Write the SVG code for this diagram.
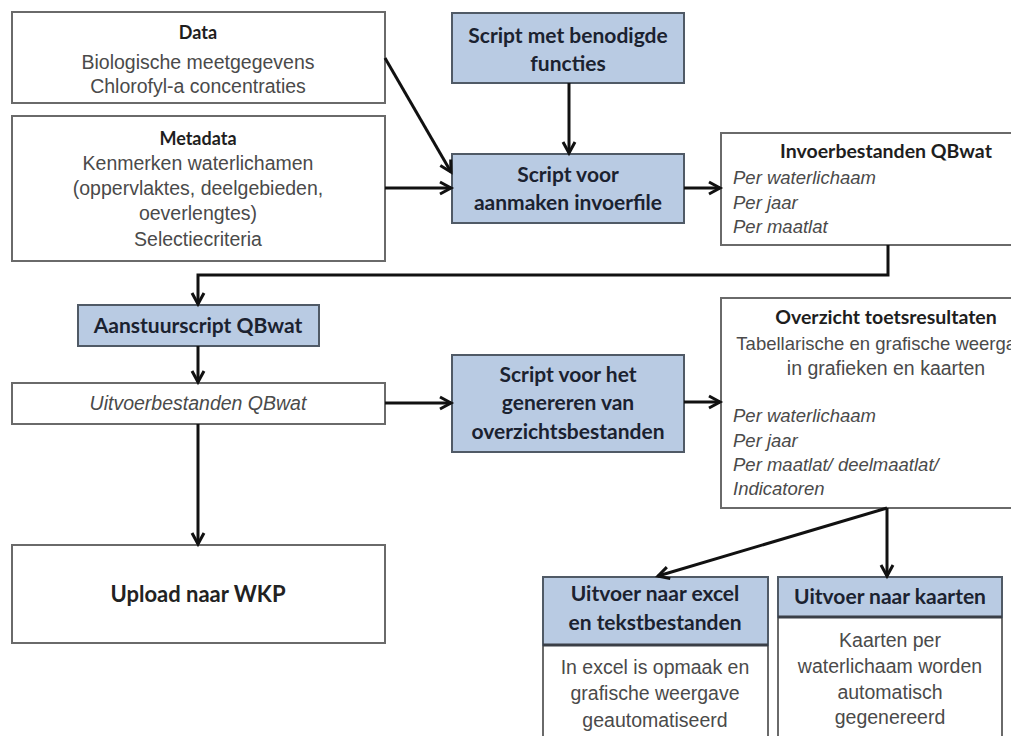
<svg xmlns="http://www.w3.org/2000/svg" width="1011" height="736" viewBox="0 0 1011 736">
<style>
.wbox{fill:#ffffff;stroke:#6a6a6a;stroke-width:2}
.bbox{fill:#b9cbe3;stroke:#505a66;stroke-width:2}
.hline{stroke:#3a3f47;stroke-width:3}
.t{font-family:"Liberation Sans",Arial,sans-serif;font-size:19.5px;fill:#4a4a4a;text-anchor:middle}
.ti{font-family:"Liberation Sans",Arial,sans-serif;font-size:18.5px;font-style:italic;fill:#4a4a4a}
.h{font-family:Lato,"Liberation Sans",sans-serif;font-weight:700;font-size:19.5px;fill:#1e1e1e;text-anchor:middle}
.b{font-family:Lato,"Liberation Sans",sans-serif;font-weight:700;font-size:21px;fill:#1b2230;text-anchor:middle}
.c{fill:none;stroke:#111;stroke-width:3}
</style>
<defs>
<marker id="ah" markerUnits="userSpaceOnUse" markerWidth="18" markerHeight="18" refX="13" refY="8" orient="auto">
<path d="M2,2 L13,8 L2,14" fill="none" stroke="#111" stroke-width="3"/>
</marker>
</defs>
<rect width="1011" height="736" fill="#ffffff"/>

<g id="data">
<rect class="wbox" x="12" y="12" width="373" height="91"/>
<text class="h" x="198" y="39" style="font-size:18px">Data</text>
<text class="t" x="198" y="69">Biologische meetgegevens</text>
<text class="t" x="198" y="93">Chlorofyl-a concentraties</text>
</g>

<g id="metadata">
<rect class="wbox" x="12" y="116" width="373" height="145"/>
<text class="h" x="198" y="145" style="font-size:18px">Metadata</text>
<text class="t" x="198" y="170">Kenmerken waterlichamen</text>
<text class="t" x="198" y="195">(oppervlaktes, deelgebieden,</text>
<text class="t" x="198" y="220">oeverlengtes)</text>
<text class="t" x="198" y="246">Selectiecriteria</text>
</g>

<g id="script-functies">
<rect class="bbox" x="452" y="13" width="232" height="70"/>
<text class="b" x="568" y="43">Script met benodigde</text>
<text class="b" x="568" y="71">functies</text>
</g>

<g id="script-invoer">
<rect class="bbox" x="452" y="154" width="232" height="69"/>
<text class="b" x="568" y="182">Script voor</text>
<text class="b" x="568" y="210">aanmaken invoerfile</text>
</g>

<g id="invoerbestanden">
<rect class="wbox" x="721" y="133" width="330" height="112"/>
<text class="h" x="886" y="158">Invoerbestanden QBwat</text>
<text class="ti" x="733" y="184">Per waterlichaam</text>
<text class="ti" x="733" y="209">Per jaar</text>
<text class="ti" x="733" y="233">Per maatlat</text>
</g>

<g id="aanstuurscript">
<rect class="bbox" x="78" y="305" width="241" height="41"/>
<text class="b" x="198" y="333">Aanstuurscript QBwat</text>
</g>

<g id="uitvoerbestanden">
<rect class="wbox" x="12" y="383" width="373" height="41"/>
<text class="ti" x="198" y="410" style="text-anchor:middle;font-size:19.5px">Uitvoerbestanden QBwat</text>
</g>

<g id="script-overzicht">
<rect class="bbox" x="452" y="355" width="232" height="97"/>
<text class="b" x="568" y="382">Script voor het</text>
<text class="b" x="568" y="410">genereren van</text>
<text class="b" x="568" y="439">overzichtsbestanden</text>
</g>

<g id="overzicht">
<rect class="wbox" x="721" y="298" width="330" height="210"/>
<text class="h" x="886" y="324">Overzicht toetsresultaten</text>
<text class="t" x="886" y="350" style="font-size:18.5px">Tabellarische en grafische weergave</text>
<text class="t" x="886" y="375">in grafieken en kaarten</text>
<text class="ti" x="733" y="422">Per waterlichaam</text>
<text class="ti" x="733" y="447">Per jaar</text>
<text class="ti" x="733" y="471">Per maatlat/ deelmaatlat/</text>
<text class="ti" x="733" y="495">Indicatoren</text>
</g>

<g id="upload">
<rect class="wbox" x="12" y="545" width="373" height="98"/>
<text class="b" x="198" y="602" style="fill:#222;font-size:22px">Upload naar WKP</text>
</g>

<g id="uitvoer-excel">
<rect class="wbox" x="543" y="577" width="225" height="170"/>
<rect class="bbox" x="543" y="577" width="225" height="68"/>
<line class="hline" x1="543" y1="645" x2="768" y2="645"/>
<text class="b" x="655" y="601">Uitvoer naar excel</text>
<text class="b" x="655" y="630">en tekstbestanden</text>
<text class="t" x="655" y="674">In excel is opmaak en</text>
<text class="t" x="655" y="700">grafische weergave</text>
<text class="t" x="655" y="727">geautomatiseerd</text>
</g>

<g id="uitvoer-kaarten">
<rect class="wbox" x="778" y="577" width="224" height="170"/>
<rect class="bbox" x="778" y="577" width="224" height="40"/>
<line class="hline" x1="778" y1="617" x2="1002" y2="617"/>
<text class="b" x="890" y="604">Uitvoer naar kaarten</text>
<text class="t" x="890" y="647">Kaarten per</text>
<text class="t" x="890" y="673">waterlichaam worden</text>
<text class="t" x="890" y="699">automatisch</text>
<text class="t" x="890" y="724">gegenereerd</text>
</g>

<g id="connectors">
<line class="c" x1="385" y1="58" x2="451" y2="172" marker-end="url(#ah)"/>
<line class="c" x1="385" y1="188" x2="451" y2="188" marker-end="url(#ah)"/>
<line class="c" x1="569" y1="83" x2="569" y2="153" marker-end="url(#ah)"/>
<line class="c" x1="684" y1="188" x2="720" y2="188" marker-end="url(#ah)"/>
<polyline class="c" points="888,245 888,275 198,275 198,304" marker-end="url(#ah)"/>
<line class="c" x1="198" y1="346" x2="198" y2="382" marker-end="url(#ah)"/>
<line class="c" x1="385" y1="403" x2="451" y2="403" marker-end="url(#ah)"/>
<line class="c" x1="684" y1="402" x2="720" y2="402" marker-end="url(#ah)"/>
<line class="c" x1="198" y1="424" x2="198" y2="544" marker-end="url(#ah)"/>
<line class="c" x1="887" y1="508" x2="887" y2="576" marker-end="url(#ah)"/>
<line class="c" x1="887" y1="508" x2="658" y2="576" marker-end="url(#ah)"/>
</g>
</svg>
